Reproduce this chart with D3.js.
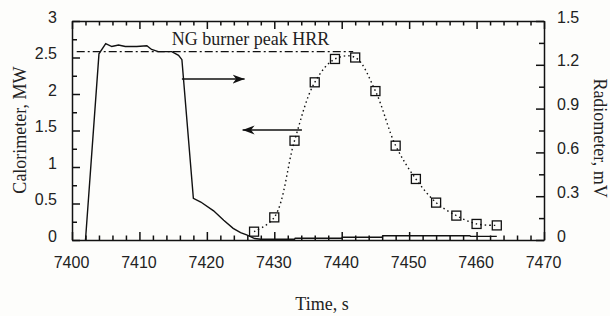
<!DOCTYPE html>
<html>
<head>
<meta charset="utf-8">
<script src="https://cdn.jsdelivr.net/npm/d3@7"></script>
<style>
  body { margin: 0; background: #fdfdfb; }
  svg { display: block; }
</style>
</head>
<body>
<svg></svg>
<script>
// calorimeter HRR (left axis, MW)
var calT  = [7402, 7404, 7405, 7405.9, 7406.9, 7407.9, 7409.6, 7411.1, 7411.8, 7412.8, 7414.8, 7415.8, 7416.3,
             7418, 7419.1, 7421, 7422.5, 7423.9, 7425, 7425.9, 7427.1, 7428, 7433, 7433.1, 7440, 7440.1, 7446, 7446.1, 7459, 7459.1, 7463];
var calMW = [0, 2.55, 2.69, 2.65, 2.67, 2.65, 2.65, 2.66, 2.61, 2.58, 2.58, 2.53, 2.47,
             0.57, 0.52, 0.40, 0.27, 0.16, 0.10, 0.07, 0.02, 0.01, 0.01, 0.023, 0.023, 0.037, 0.037, 0.058, 0.058, 0.05, 0.05];

// radiometer (right axis, mV)
var radT  = [7427, 7430, 7433, 7436, 7439, 7442, 7445, 7448, 7451, 7454, 7457, 7460, 7463];
var radMV = [0.057, 0.155, 0.68, 1.08, 1.24, 1.25, 1.02, 0.646, 0.418, 0.256, 0.167, 0.11, 0.10];

// NG burner peak line
var peakT = [7400.7, 7441.7];
var peakMW = 2.58;

var xMajor = [7400, 7410, 7420, 7430, 7440, 7450, 7460, 7470];
var yLeftTicks = [0, 0.5, 1, 1.5, 2, 2.5, 3];
var yRightTicks = [0, 0.3, 0.6, 0.9, 1.2, 1.5];

var width = 610, height = 316;
var plotL = 72, plotR = 544, plotT = 21, plotB = 240;

var svg = d3.select("svg").attr("width", width).attr("height", height);

var x = d3.scaleLinear().domain([7400, 7470]).range([plotL, plotR]);
var yL = d3.scaleLinear().domain([0, 3]).range([plotB, plotT]);
var yR = d3.scaleLinear().domain([0, 1.5]).range([plotB, plotT]);

var xMinor = d3.range(7400, 7471, 2).filter(function (d) { return d % 10 != 0; });
var yLMinor = d3.range(0.25, 3, 0.5);
var yRMinor = d3.range(0.15, 1.5, 0.3);

var sansFont = "'Liberation Sans', Arial, sans-serif";
var serifFont = "'Liberation Serif', 'Times New Roman', serif";

function styleAxis(g) {
  g.selectAll("path, line").attr("stroke", "#111").attr("stroke-width", 1.5);
  g.selectAll("text").attr("font-family", sansFont).attr("font-size", "16px").attr("fill", "#222");
}

// minor ticks
svg.append("g").attr("transform", "translate(0," + plotB + ")")
  .call(d3.axisBottom(x).tickValues(xMinor).tickSize(-4.5).tickFormat(""))
  .call(styleAxis).call(function (g) { g.select(".domain").remove(); });
svg.append("g").attr("transform", "translate(0," + plotT + ")")
  .call(d3.axisTop(x).tickValues(xMinor).tickSize(-4.5).tickFormat(""))
  .call(styleAxis).call(function (g) { g.select(".domain").remove(); });
svg.append("g").attr("transform", "translate(" + plotL + ",0)")
  .call(d3.axisLeft(yL).tickValues(yLMinor).tickSize(-5).tickFormat(""))
  .call(styleAxis).call(function (g) { g.select(".domain").remove(); });
svg.append("g").attr("transform", "translate(" + plotR + ",0)")
  .call(d3.axisRight(yR).tickValues(yRMinor).tickSize(-5).tickFormat(""))
  .call(styleAxis).call(function (g) { g.select(".domain").remove(); });

// major axes
svg.append("g").attr("transform", "translate(0," + plotB + ")")
  .call(d3.axisBottom(x).tickValues(xMajor).tickSize(-8).tickSizeOuter(0).tickPadding(17).tickFormat(d3.format("d")))
  .call(styleAxis)
  .call(function (g) { g.selectAll("text").attr("x", -1); });
svg.append("g").attr("transform", "translate(0," + plotT + ")")
  .call(d3.axisTop(x).tickValues(xMajor).tickSize(-8).tickSizeOuter(0).tickFormat(""))
  .call(styleAxis);
svg.append("g").attr("transform", "translate(" + plotL + ",0)")
  .call(d3.axisLeft(yL).tickValues(yLeftTicks).tickSize(-8).tickSizeOuter(0).tickPadding(15).tickFormat(d3.format("")))
  .call(styleAxis)
  .call(function (g) { g.selectAll("text").attr("y", -4); });
svg.append("g").attr("transform", "translate(" + plotR + ",0)")
  .call(d3.axisRight(yR).tickValues(yRightTicks).tickSize(-8).tickSizeOuter(0).tickPadding(13).tickFormat(d3.format("")))
  .call(styleAxis)
  .call(function (g) { g.selectAll("text").attr("y", -4); });

// axis titles
svg.append("text")
  .attr("transform", "translate(26,130) rotate(-90)")
  .attr("text-anchor", "middle")
  .attr("font-family", serifFont).attr("font-size", "18px").attr("fill", "#222")
  .text("Calorimeter, MW");
svg.append("text")
  .attr("transform", "translate(594,138) rotate(90)")
  .attr("text-anchor", "middle")
  .attr("font-family", serifFont).attr("font-size", "18px").attr("fill", "#222")
  .text("Radiometer, mV");
svg.append("text")
  .attr("x", 322).attr("y", 310)
  .attr("text-anchor", "middle")
  .attr("font-family", serifFont).attr("font-size", "18px").attr("fill", "#222")
  .text("Time, s");

// peak HRR reference line
svg.append("line")
  .attr("x1", x(peakT[0])).attr("x2", x(peakT[1]))
  .attr("y1", yL(peakMW)).attr("y2", yL(peakMW))
  .attr("stroke", "#111").attr("stroke-width", 1.3)
  .attr("stroke-dasharray", "8,3,2,3");
svg.append("text")
  .attr("x", x(7414.8)).attr("y", yL(2.67))
  .attr("font-family", serifFont).attr("font-size", "18px").attr("fill", "#222")
  .text("NG burner peak HRR");

// calorimeter line
var calData = calT.map(function (t, i) { return [t, calMW[i]]; });
svg.append("path")
  .datum(calData)
  .attr("fill", "none")
  .attr("stroke", "#111")
  .attr("stroke-width", 1.4)
  .attr("d", d3.line().x(function (d) { return x(d[0]); }).y(function (d) { return yL(d[1]); }));

// radiometer line
var radData = radT.map(function (t, i) { return [t, radMV[i]]; });
svg.append("path")
  .datum(radData)
  .attr("fill", "none")
  .attr("stroke", "#111")
  .attr("stroke-width", 1.4)
  .attr("stroke-dasharray", "1.5,3")
  .attr("d", d3.line().curve(d3.curveCatmullRom.alpha(0.5))
    .x(function (d) { return x(d[0]); }).y(function (d) { return yR(d[1]); }));

svg.selectAll("rect.marker")
  .data(radData)
  .enter()
  .append("rect")
  .attr("class", "marker")
  .attr("x", function (d) { return x(d[0]) - 4.5; })
  .attr("y", function (d) { return yR(d[1]) - 4.5; })
  .attr("width", 9).attr("height", 9)
  .attr("fill", "none")
  .attr("stroke", "#111")
  .attr("stroke-width", 1.3);

// arrows pointing to each curve's axis
var defs = svg.append("defs");
defs.append("marker")
  .attr("id", "head")
  .attr("markerUnits", "userSpaceOnUse")
  .attr("viewBox", "0 -5 13 10")
  .attr("markerWidth", 13).attr("markerHeight", 10)
  .attr("refX", 12).attr("refY", 0)
  .attr("orient", "auto")
  .append("path")
  .attr("d", "M0,-4.5L12,0L0,4.5L3.5,0Z")
  .attr("fill", "#111");

var arrowRight = [[7416.3, 2.205], [7425.6, 2.205]];
var arrowLeft = [[7434.1, 1.507], [7425.3, 1.507]];
[arrowRight, arrowLeft].forEach(function (a) {
  svg.append("line")
    .attr("x1", x(a[0][0])).attr("y1", yL(a[0][1]))
    .attr("x2", x(a[1][0])).attr("y2", yL(a[1][1]))
    .attr("stroke", "#111").attr("stroke-width", 1.4)
    .attr("marker-end", "url(#head)");
});
</script>
</body>
</html>
